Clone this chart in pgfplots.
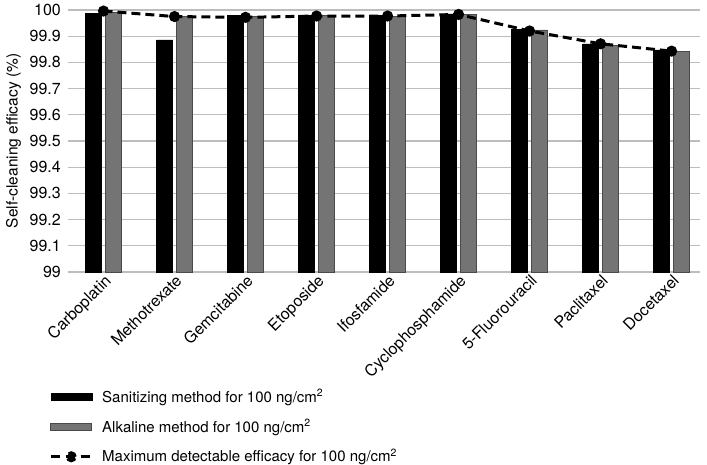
\documentclass[border=0pt]{standalone}
\usepackage{pgfplots}
\pgfplotsset{compat=1.18}
\usepackage{fontspec}
\setmainfont{TeX Gyre Heros}
\definecolor{barGray}{HTML}{747474}
\definecolor{edgeGray}{HTML}{4A4A4A}
\definecolor{gridGray}{HTML}{BDBDBD}
\begin{document}
\fontsize{15}{18}\selectfont
\begin{tikzpicture}
\begin{axis}[
  at={(0pt,0pt)}, anchor=south west,
  scale only axis,
  width=632pt, height=262pt,
  xmin=-0.5, xmax=8.4,
  ymin=99, ymax=100,
  ytick={99,99.1,...,100.05},
  yticklabels={99,99.1,99.2,99.3,99.4,99.5,99.6,99.7,99.8,99.9,100},
  xtick={0,...,8},
  xticklabels={Carboplatin,Methotrexate,Gemcitabine,Etoposide,Ifosfamide,Cyclophosphamide,5-Fluorouracil,Paclitaxel,Docetaxel},
  xticklabel style={rotate=45, anchor=north east, inner sep=1pt, font=\fontsize{16}{19}\selectfont},
  yticklabel style={font=\fontsize{16}{19}\selectfont, inner sep=0pt, xshift=-7pt},
  /pgf/number format/assume math mode=true,
  major tick length=0pt,
  axis x line*=bottom,
  axis y line*=left,
  y axis line style={draw=none},
  x axis line style={draw=gridGray, line width=1.3pt, -},
  ymajorgrids,
  grid style={draw=gridGray, line width=1.3pt},
  ylabel={Self-cleaning efficacy (\%)},
  ylabel style={at={(axis description cs:-0.086,0.5)}, anchor=center, font=\fontsize{15.5}{18}\selectfont},
  clip=false,
  legend style={at={(axis description cs:-0.030,-0.44)}, anchor=north west, draw=none, fill=none,
    font=\fontsize{15}{18}\selectfont, row sep=11pt, inner sep=0pt, cells={anchor=west},
    /tikz/every odd column/.append style={column sep=7pt}},
  legend cell align=left,
]
\addplot[ybar, bar width=16pt, bar shift=-10pt, fill=black, draw=black,
  legend image code/.code={\fill[black] (0pt,-3.5pt) rectangle (41pt,3.5pt);}]
  coordinates {(0,99.987) (1,99.886) (2,99.980) (3,99.980) (4,99.980) (5,99.985) (6,99.927) (7,99.871) (8,99.848)};
\addlegendentry{Sanitizing method for 100 ng/cm\textsuperscript{2}}
\addplot[ybar, bar width=16pt, bar shift=10pt, fill=barGray, draw=edgeGray, line width=0.8pt,
  legend image code/.code={\draw[fill=barGray, draw=edgeGray, line width=0.8pt] (0pt,-3.5pt) rectangle (41pt,3.5pt);}]
  coordinates {(0,99.990) (1,99.977) (2,99.977) (3,99.980) (4,99.977) (5,99.982) (6,99.924) (7,99.863) (8,99.841)};
\addlegendentry{Alkaline method for 100 ng/cm\textsuperscript{2}}
\addplot[black, line width=3pt, dash pattern=on 9pt off 5pt, mark=*, mark size=4pt, mark options={solid},
  legend image code/.code={\draw[black, line width=3pt, dash pattern=on 9pt off 6pt] (0pt,0pt) -- (41pt,0pt); \fill[black] (20.5pt,0pt) circle (4pt);}]
  coordinates {(0,99.996) (1,99.975) (2,99.972) (3,99.977) (4,99.977) (5,99.983) (6,99.920) (7,99.871) (8,99.843)};
\addlegendentry{Maximum detectable efficacy for 100 ng/cm\textsuperscript{2}}
\end{axis}
\pgfresetboundingbox
\path[use as bounding box] (-68pt,-192pt) rectangle (639pt,272pt);
\end{tikzpicture}
\end{document}
